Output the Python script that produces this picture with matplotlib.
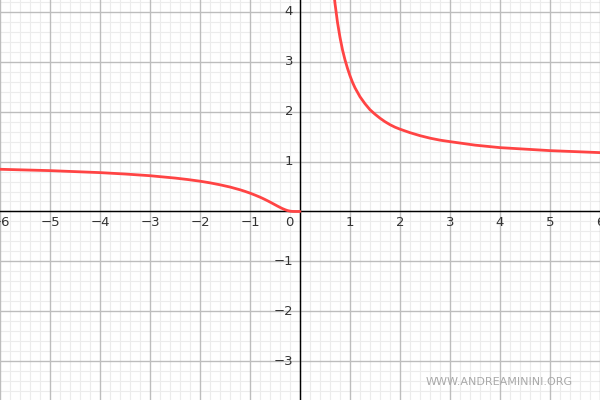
import matplotlib.pyplot as plt
import numpy as np

# values
left_x = [-6, -5, -4, -3.5, -3, -2.5, -2.25, -2, -1.8, -1.6, -1.4, -1.2, -1.1,
          -1, -0.9, -0.8, -0.75, -0.7, -0.65, -0.6, -0.55, -0.5, -0.45, -0.4,
          -0.35, -0.3, -0.25, -0.2, -0.15, -0.1, -0.05, 0]
left_y = [0.846, 0.819, 0.779, 0.751, 0.717, 0.670, 0.641, 0.607, 0.574, 0.535,
          0.490, 0.435, 0.403, 0.368, 0.329, 0.287, 0.264, 0.240, 0.215, 0.189,
          0.162, 0.135, 0.108, 0.082, 0.057, 0.036, 0.018, 0.007, 0.001, 0.0,
          0.0, 0.0]
right_x = [0.66, 0.7, 0.75, 0.8, 0.85, 0.9, 0.95, 1.0, 1.05, 1.1, 1.15, 1.2,
           1.3, 1.4, 1.5, 1.6, 1.7, 1.8, 1.9, 2, 2.2, 2.4, 2.6, 2.8, 3, 3.5, 4,
           4.5, 5, 5.5, 6]
right_y = [4.55, 4.17, 3.79, 3.49, 3.24, 3.04, 2.87, 2.72, 2.59, 2.48, 2.39,
           2.30, 2.16, 2.04, 1.95, 1.87, 1.80, 1.74, 1.69, 1.65, 1.58, 1.52,
           1.47, 1.43, 1.40, 1.33, 1.28, 1.25, 1.22, 1.20, 1.18]

x_ticks = [-6, -5, -4, -3, -2, -1, 1, 2, 3, 4, 5, 6]
y_ticks = [-3, -2, -1, 1, 2, 3, 4]

fig = plt.figure(figsize=(6, 4), dpi=100)
ax = fig.add_axes([0, 0, 1, 1])
ax.set_xlim(-6, 6)
ax.set_ylim(-3.78, 4.24)

# grid: major every unit, minor every 0.2
for v in np.arange(-6, 6.01, 0.2):
    major = abs(v - round(v)) < 1e-6
    ax.axvline(v, color="#bdbdbd" if major else "#ececec",
               lw=1.0 if major else 0.8, zorder=1 if major else 0)
for v in np.arange(-4, 4.41, 0.2):
    major = abs(v - round(v)) < 1e-6
    ax.axhline(v, color="#bdbdbd" if major else "#ececec",
               lw=1.0 if major else 0.8, zorder=1 if major else 0)

ax.axhline(0, color="black", lw=1.0, zorder=2)
ax.axvline(0, color="black", lw=1.0, zorder=2)

ax.plot(left_x, left_y, color="#ff4444", lw=2.0, zorder=3,
        solid_capstyle="round", solid_joinstyle="round")
ax.plot(right_x, right_y, color="#ff4444", lw=2.0, zorder=3,
        solid_capstyle="round", solid_joinstyle="round")

for s in ax.spines.values():
    s.set_visible(False)
ax.set_xticks([])
ax.set_yticks([])

# tick labels next to the axes
for t in x_ticks:
    lab = str(t).replace("-", "\u2212")
    ax.text(t, -0.22, lab, ha="center", va="center", fontsize=9.5,
            color="#333333", zorder=4)
for t in y_ticks:
    lab = str(t).replace("-", "\u2212")
    ax.text(-0.14, t, lab, ha="right", va="center", fontsize=9.5,
            color="#333333", zorder=4)
ax.text(-0.22, -0.22, "0", ha="center", va="center", fontsize=9.5,
        color="#333333", zorder=4)

ax.text(5.46, -3.42, "WWW.ANDREAMININI.ORG", ha="right", va="center",
        fontsize=8, color="#aaaaaa", zorder=4)

plt.savefig("out.png", dpi=100)
